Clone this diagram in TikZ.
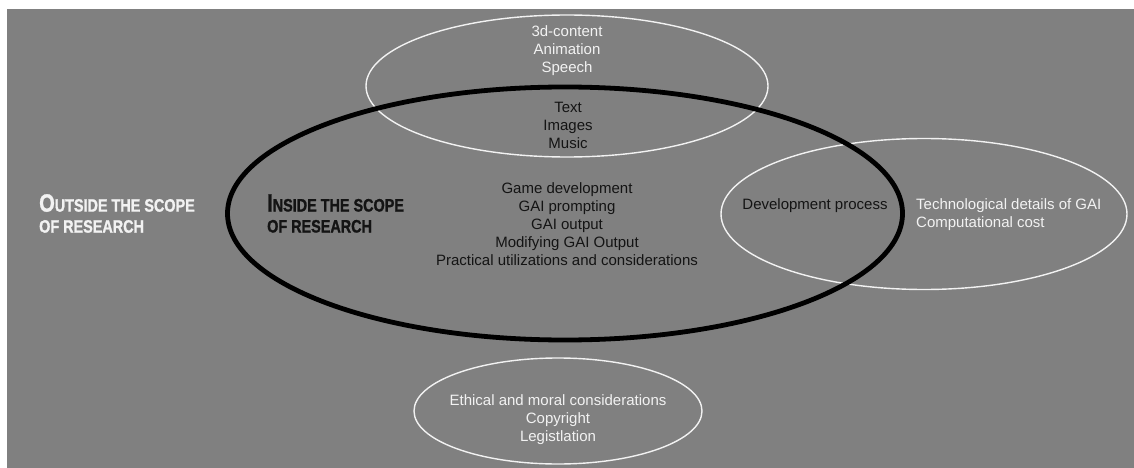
\documentclass[tikz,border=0pt]{standalone}
\usepackage{fontspec}
\setmainfont{Liberation Sans}
\newfontfamily\scopefont[FakeStretch=0.8,FakeBold=1.2]{Liberation Sans Bold}
\usepackage{xcolor}
\usetikzlibrary{shapes.geometric}
\definecolor{bggray}{HTML}{808080}
\definecolor{lighttext}{HTML}{F2F2F2}
\definecolor{darktext}{HTML}{141414}
\newcommand{\headinitial}[1]{{\fontsize{25}{21}\selectfont #1}}

\begin{document}
\begin{tikzpicture}[x=1pt, y=-1pt,
  oval/.style={draw=lighttext, ellipse, line width=1.4pt, inner sep=0pt},
  scopeoval/.style={draw=black, ellipse, line width=4.8pt, inner sep=0pt},
  light/.style={text=lighttext, font=\fontsize{15}{18}\selectfont, align=center, inner sep=0pt},
  dark/.style={light, text=darktext},
  heading/.style={font=\scopefont\fontsize{18}{21}\selectfont, align=left, inner sep=0pt, anchor=west}
]
\useasboundingbox (0,0) rectangle (1134,468);
\fill[white] (0,0) rectangle (1134,468);
\fill[bggray] (7,9) rectangle (1134,468);

\node[oval, minimum width=402, minimum height=142] (media) at (567,86) {};
\node[oval, minimum width=406, minimum height=151] (tech) at (924,214) {};
\node[oval, minimum width=288, minimum height=106] (ethics) at (558,411) {};
\node[scopeoval, minimum width=675, minimum height=253] (scope) at (565,213.5) {};

\node[light] (mediaout) at (567,51) {3d-content\\Animation\\Speech};
\node[dark] (mediain) at (568,125) {Text\\Images\\Music};
\node[dark] (topics) at (567,224) {Game development\\GAI prompting\\GAI output\\Modifying GAI Output\\Practical utilizations and considerations};
\node[dark] (process) at (815,206) {Development process};
\node[light, align=left, anchor=west] (details) at (916,215) {Technological details of GAI\\Computational cost};
\node[light] (ethicstext) at (558,420) {Ethical and moral considerations\\Copyright\\Legistlation};

\node[heading, text=lighttext] (outside) at (39,213.5) {\headinitial{O}UTSIDE THE SCOPE\\OF RESEARCH};
\node[heading, text=darktext] (inside) at (267,213.5) {\headinitial{I}NSIDE THE SCOPE\\OF RESEARCH};

\end{tikzpicture}
\end{document}
